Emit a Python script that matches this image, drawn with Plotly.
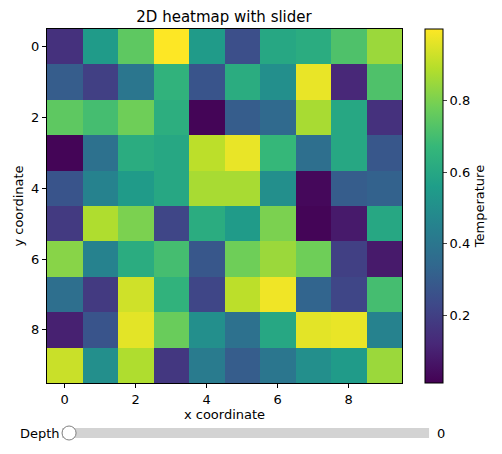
import plotly.graph_objects as go

x_vals = list(range(10))
y_vals = list(range(10))
z = [
    [0.15, 0.55, 0.75, 1.00, 0.55, 0.25, 0.60, 0.62, 0.72, 0.85],
    [0.30, 0.20, 0.40, 0.65, 0.27, 0.62, 0.50, 0.97, 0.12, 0.72],
    [0.75, 0.70, 0.78, 0.63, 0.02, 0.30, 0.35, 0.87, 0.60, 0.15],
    [0.02, 0.38, 0.62, 0.60, 0.90, 0.97, 0.67, 0.37, 0.60, 0.28],
    [0.27, 0.45, 0.55, 0.60, 0.87, 0.87, 0.50, 0.03, 0.30, 0.32],
    [0.18, 0.88, 0.80, 0.22, 0.62, 0.55, 0.80, 0.02, 0.08, 0.60],
    [0.82, 0.45, 0.62, 0.70, 0.28, 0.78, 0.85, 0.78, 0.20, 0.08],
    [0.37, 0.18, 0.93, 0.65, 0.22, 0.90, 0.98, 0.33, 0.22, 0.70],
    [0.10, 0.27, 0.96, 0.77, 0.50, 0.38, 0.60, 0.96, 0.97, 0.45],
    [0.92, 0.50, 0.88, 0.17, 0.42, 0.30, 0.40, 0.50, 0.55, 0.85],
]
tick_x = [0, 2, 4, 6, 8]
cbar_ticks = [0.2, 0.4, 0.6, 0.8]

F = "DejaVu Sans"
fig = go.Figure(go.Heatmap(
    z=z, x=x_vals, y=y_vals, colorscale="Viridis", zmin=0.01, zmax=1.0,
    colorbar=dict(x=1.037, xanchor="left", y=0.5, len=1, ypad=0, thickness=18,
                  outlinecolor="black", outlinewidth=1,
                  tickvals=cbar_ticks, ticks="outside", ticklen=4,
                  tickfont=dict(family=F, size=13, color="black"),
                  title=dict(text="Temperature", side="right",
                             font=dict(family=F, size=13, color="black"))),
))
ax = dict(showline=True, linecolor="black", mirror=True, ticks="outside",
          ticklen=4, tickcolor="black", showgrid=False, zeroline=False,
          tickfont=dict(family=F, size=13, color="black"))
fig.update_xaxes(**ax, tickvals=tick_x, range=[-0.5, 9.5],
                 title=dict(text="x coordinate", font=dict(family=F, size=13, color="black"), standoff=4))
fig.update_yaxes(**ax, tickvals=tick_x, range=[9.5, -0.5],
                 title=dict(text="y coordinate", font=dict(family=F, size=13, color="black"), standoff=4))
fig.update_layout(
    width=502, height=454, margin=dict(l=47, r=100, t=29, b=71, autoexpand=False),
    paper_bgcolor="white", plot_bgcolor="white",
    title=dict(text="2D heatmap with slider", x=224/502, xanchor="center",
               yref="container", y=1-17/454, yanchor="middle",
               font=dict(family=F, size=15, color="black")),
    shapes=[
        dict(type="rect", xref="paper", yref="paper", x0=(62-47)/354, x1=(428-47)/354,
             y0=-(433-383+5)/354, y1=-(433-383-5)/354, fillcolor="lightgray", line=dict(width=0)),
        dict(type="circle", xref="paper", yref="paper", x0=(62-47)/354, x1=(76-47)/354,
             y0=-(433-383+7)/354, y1=-(433-383-7)/354, fillcolor="white", line=dict(color="gray", width=1)),
    ],
    annotations=[
        dict(text="Depth", xref="paper", yref="paper", x=(62-47)/354, y=-(433-383)/354,
             xanchor="right", yanchor="middle", showarrow=False, font=dict(family=F, size=13, color="black")),
        dict(text="0", xref="paper", yref="paper", x=(434-47)/354, y=-(433-383)/354,
             xanchor="left", yanchor="middle", showarrow=False, font=dict(family=F, size=13, color="black")),
    ],
)
fig.write_html("out.html", config={"displayModeBar": False},
               post_script="document.body.style.margin='0';document.body.style.overflow='hidden';")
